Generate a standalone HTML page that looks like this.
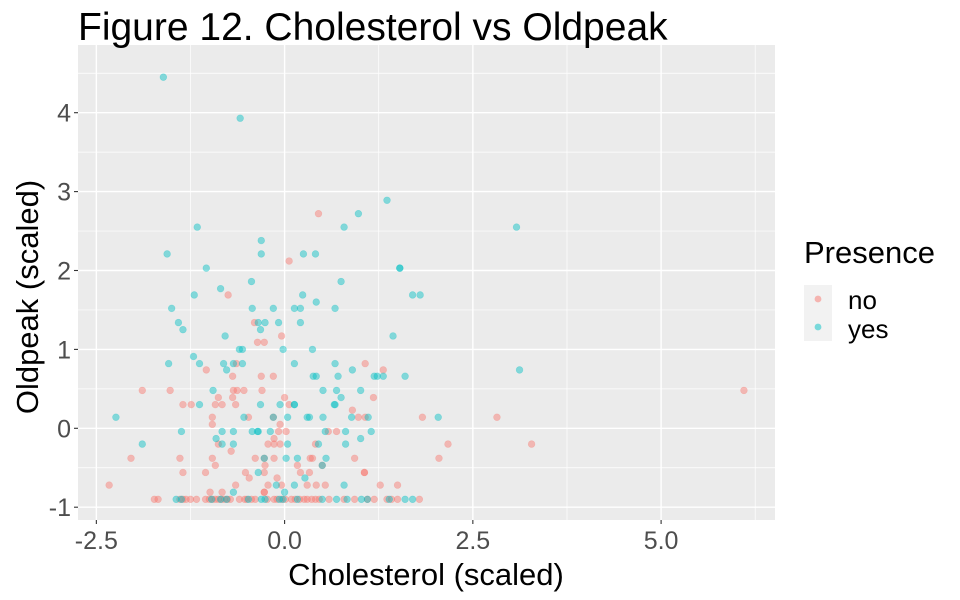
<!DOCTYPE html>
<html><head><meta charset="utf-8"><style>
body{margin:0;background:#fff;}
svg{display:block;font-family:"Liberation Sans",sans-serif;}
</style></head><body>
<svg id="chart" width="960" height="600">
<rect width="960" height="600" fill="#fff"/>
<rect x="78" y="45" width="697" height="475" fill="#ebebeb"/>
<text x="78" y="40" font-size="39" fill="#000">Figure 12. Cholesterol vs Oldpeak</text>
<g id="grid"></g>
<g id="points"></g>
<g id="axes"></g>
<text x="426" y="585" font-size="31" text-anchor="middle" fill="#000">Cholesterol (scaled)</text>
<text transform="translate(38,297) rotate(-90)" font-size="31" text-anchor="middle" fill="#000">Oldpeak (scaled)</text>
<g>
<text x="804" y="263" font-size="31" fill="#000">Presence</text>
<rect x="804" y="285" width="28" height="28" fill="#f2f2f2"/>
<circle cx="818" cy="299" r="3.4" fill="#F8766D" fill-opacity="0.5"/>
<text x="848" y="309" font-size="26" fill="#000">no</text>
<rect x="804" y="313" width="28" height="28" fill="#f2f2f2"/>
<circle cx="818" cy="327" r="3.4" fill="#00BFC4" fill-opacity="0.5"/>
<text x="848" y="338" font-size="26" fill="#000">yes</text>
</g>
</svg>
<script>
const xTicks=[-2.5,0,2.5,5];
const xTickLabels=["-2.5","0.0","2.5","5.0"];
const yTicks=[-1,0,1,2,3,4];
const yTickLabels=["-1","0","1","2","3","4"];
const noX=[0.45,0.06,-0.75,-0.40,-0.04,-0.36,-0.27,-0.64,1.07,-1.04,1.31,-0.69,-0.31,-0.15,
-1.89,-1.52,-0.68,-0.63,-0.54,-0.30,6.10,-0.88,-0.69,0.00,1.18,-1.35,-1.24,-0.92,-0.83,-0.65,0.06,0.90,
-0.96,-0.48,-0.15,0.98,1.07,1.83,2.82,-0.96,-0.06,-0.08,0.02,0.58,0.69,-0.14,
-0.88,-0.22,-0.14,-0.06,0.41,2.17,3.28,-0.71,
-2.04,-1.39,-0.96,-0.39,-0.27,-0.14,0.34,0.37,0.93,2.05,-0.92,-0.26,0.17,0.50,
-1.35,-1.05,-0.52,-0.27,0.21,0.33,1.06,1.06,-0.47,-0.10,
-2.33,-0.65,-0.22,-0.04,0.30,0.42,0.54,1.27,1.50,-0.99,-0.83,-0.27,-0.27,
-1.73,-1.68,-1.39,-1.35,-1.31,-1.25,-1.17,-1.05,-1.00,-0.96,-0.92,-0.88,-0.84,-0.80,-0.76,-0.72,-0.60,-0.53,-0.50,-0.44,-0.39,-0.23,-0.14,-0.10,-0.04,0.01,0.09,0.14,0.20,0.26,0.30,0.36,0.41,0.46,0.59,0.79,0.93,1.10,1.19,1.36,1.42,1.50,1.79];
const noY=[2.72,2.12,1.69,1.34,1.17,1.09,1.09,0.82,0.82,0.74,0.74,0.66,0.66,0.66,
0.48,0.48,0.48,0.48,0.48,0.48,0.48,0.39,0.39,0.39,0.39,0.30,0.30,0.30,0.30,0.30,0.30,0.23,
0.14,0.14,0.14,0.14,0.14,0.14,0.14,0.05,0.05,-0.04,-0.04,-0.04,-0.04,-0.13,
-0.20,-0.20,-0.20,-0.20,-0.20,-0.20,-0.20,-0.29,
-0.38,-0.38,-0.38,-0.38,-0.38,-0.38,-0.38,-0.38,-0.38,-0.38,-0.47,-0.47,-0.47,-0.47,
-0.56,-0.56,-0.56,-0.56,-0.56,-0.56,-0.56,-0.56,-0.63,-0.63,
-0.72,-0.72,-0.72,-0.72,-0.72,-0.72,-0.72,-0.72,-0.72,-0.81,-0.81,-0.81,-0.81,
-0.90,-0.90,-0.90,-0.90,-0.90,-0.90,-0.90,-0.90,-0.90,-0.90,-0.90,-0.90,-0.90,-0.90,-0.90,-0.90,-0.90,-0.90,-0.90,-0.90,-0.90,-0.90,-0.90,-0.90,-0.90,-0.90,-0.90,-0.90,-0.90,-0.90,-0.90,-0.90,-0.90,-0.90,-0.90,-0.90,-0.90,-0.90,-0.90,-0.90,-0.90,-0.90,-0.90];
const yesX=[-1.61,-0.59,3.08,1.36,0.98,-1.16,0.79,-0.31,-1.56,-0.31,0.25,0.41,-1.04,1.53,1.53,-0.44,0.75,-0.85,-1.20,0.24,1.70,1.80,
-1.50,-0.43,-0.15,0.13,0.21,0.42,0.67,-1.41,-0.35,-0.26,-0.08,0.21,-1.35,-0.32,-0.79,1.44,-0.60,-0.56,-0.02,0.37,-1.21,
-1.54,-1.13,-0.81,-0.68,-0.56,0.13,0.67,-0.77,0.90,3.12,0.38,0.42,0.71,1.19,1.23,1.31,1.60,
-0.95,0.51,0.69,1.01,0.75,-1.13,-0.32,-0.06,0.13,0.13,0.66,0.67,
-2.24,-0.54,-0.15,0.04,0.30,0.33,0.51,0.89,1.11,2.04,
-1.37,-0.83,-0.68,-0.43,-0.36,-0.35,-0.19,0.54,0.81,1.15,-0.91,1.01,
-1.89,-0.83,-0.68,0.04,0.45,0.81,-0.27,0.02,0.17,0.55,0.50,-0.35,0.27,-0.11,0.13,0.79,-0.68,0.00,
-1.44,-1.37,-0.97,-0.85,-0.77,-0.48,-0.31,-0.26,-0.07,-0.02,0.17,0.50,0.69,0.83,1.02,1.10,1.39,1.60,1.70];
const yesY=[4.45,3.93,2.55,2.89,2.72,2.55,2.55,2.38,2.21,2.21,2.21,2.21,2.03,2.03,2.03,1.86,1.86,1.77,1.69,1.69,1.69,1.69,
1.52,1.52,1.52,1.52,1.52,1.60,1.52,1.34,1.34,1.34,1.34,1.34,1.25,1.25,1.17,1.17,1.00,1.00,1.00,1.00,0.91,
0.82,0.82,0.82,0.82,0.82,0.82,0.82,0.74,0.74,0.74,0.66,0.66,0.66,0.66,0.66,0.66,0.66,
0.48,0.48,0.48,0.48,0.39,0.30,0.30,0.30,0.30,0.30,0.30,0.30,
0.14,0.14,0.14,0.14,0.14,0.14,0.14,0.14,0.14,0.14,
-0.04,-0.04,-0.04,-0.04,-0.04,-0.04,-0.04,-0.04,-0.04,-0.04,-0.13,-0.13,
-0.20,-0.20,-0.20,-0.20,-0.20,-0.20,-0.38,-0.38,-0.38,-0.38,-0.47,-0.56,-0.63,-0.72,-0.72,-0.72,-0.81,-0.81,
-0.90,-0.90,-0.90,-0.90,-0.90,-0.90,-0.90,-0.90,-0.90,-0.90,-0.90,-0.90,-0.90,-0.90,-0.90,-0.90,-0.90,-0.90,-0.90];

const NS='http://www.w3.org/2000/svg';
const PL=78,PR=775,PT=45,PB=520;
function sx(v){return 284.6+v*75.3;}
function sy(v){return 428.3-v*78.9;}
function mk(tag,attrs,parent){const e=document.createElementNS(NS,tag);for(const k in attrs)e.setAttribute(k,attrs[k]);parent.appendChild(e);return e;}
const grid=document.getElementById('grid');
const axes=document.getElementById('axes');
for(let i=0;i<xTicks.length-1;i++){const m=(xTicks[i]+xTicks[i+1])/2;
 const l=mk('line',{x1:sx(m),x2:sx(m),y1:PT,y2:PB,stroke:'#fff','stroke-width':0.7},grid);
 
 }
{const m=xTicks[xTicks.length-1]+1.25;const l=mk('line',{x1:sx(m),x2:sx(m),y1:PT,y2:PB,stroke:'#fff','stroke-width':0.7},grid);
 
 }
for(let i=0;i<yTicks.length;i++){const m=yTicks[i]+0.5;
 const l=mk('line',{x1:PL,x2:PR,y1:sy(m),y2:sy(m),stroke:'#fff','stroke-width':0.7},grid);
 
 }
xTicks.forEach((t,i)=>{
 const l=mk('line',{x1:sx(t),x2:sx(t),y1:PT,y2:PB,stroke:'#fff','stroke-width':1.4},grid);
 
 
 const tk=mk('line',{x1:sx(t),x2:sx(t),y1:PB,y2:PB+4,stroke:'#333','stroke-width':1.1},axes);
 
 
 const tx=mk('text',{x:sx(t),y:PB+29,'font-size':25,'text-anchor':'middle',fill:'#4d4d4d'},axes);
 tx.textContent=xTickLabels[i];
 
 
});
yTicks.forEach((t,i)=>{
 const l=mk('line',{x1:PL,x2:PR,y1:sy(t),y2:sy(t),stroke:'#fff','stroke-width':1.4},grid);
 
 
 const tk=mk('line',{x1:PL-4,x2:PL,y1:sy(t),y2:sy(t),stroke:'#333','stroke-width':1.1},axes);
 
 
 const tx=mk('text',{x:PL-7,y:sy(t)+9,'font-size':25,'text-anchor':'end',fill:'#4d4d4d'},axes);
 tx.textContent=yTickLabels[i];
 
 
});
const pts=document.getElementById('points');
function draw(xs,ys,col,name){for(let i=0;i<xs.length;i++){
 const c=mk('circle',{cx:sx(xs[i]),cy:sy(ys[i]),r:3.4,fill:col,'fill-opacity':0.45,stroke:col,'stroke-opacity':0.3,'stroke-width':0.6},pts);
 
 }}
draw(noX,noY,'#F8766D','point-no');
draw(yesX,yesY,'#00BFC4','point-yes');
</script>
</body></html>
